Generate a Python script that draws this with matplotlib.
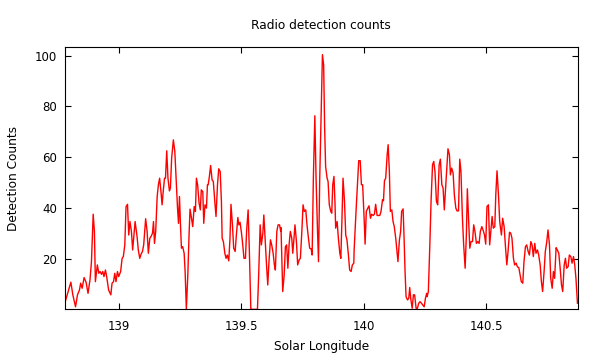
import matplotlib
matplotlib.use('Agg')
import matplotlib.pyplot as plt

TITLE  = "Radio detection counts"
XLABEL = "Solar Longitude"
YLABEL = "Detection Counts"

# values
solar_longitude = [
    138.782, 138.794, 138.805, 138.813, 138.824, 138.832, 138.840, 138.845, 138.851, 138.859,
    138.867, 138.875, 138.883, 138.889, 138.896, 138.901, 138.905, 138.913, 138.919, 138.924,
    138.930, 138.935, 138.940, 138.946, 138.951, 138.959, 138.968, 138.973, 138.979, 138.984,
    138.989, 138.995, 139.000, 139.008, 139.014, 139.019, 139.025, 139.030, 139.036, 139.041,
    139.046, 139.052, 139.057, 139.063,
    139.067, 139.075, 139.080, 139.086, 139.091, 139.097, 139.102, 139.110, 139.116, 139.121,
    139.127, 139.132, 139.138, 139.142, 139.146, 139.151, 139.157, 139.162, 139.167, 139.173,
    139.177, 139.181, 139.187, 139.191, 139.196, 139.201, 139.207, 139.211, 139.216, 139.223,
    139.229, 139.234, 139.240, 139.244, 139.248, 139.252, 139.256, 139.261, 139.267, 139.271,
    139.276, 139.282, 139.287, 139.291, 139.297, 139.302, 139.308, 139.313, 139.317, 139.322,
    139.328, 139.333, 139.337, 139.343, 139.347, 139.352, 139.358, 139.362,
    139.365, 139.370, 139.375, 139.381, 139.386, 139.392, 139.397, 139.403, 139.408, 139.414,
    139.419, 139.422, 139.427, 139.433, 139.438, 139.443, 139.449, 139.454, 139.458, 139.464,
    139.469, 139.475, 139.480, 139.486, 139.490, 139.495, 139.501, 139.506, 139.511, 139.517,
    139.522, 139.528, 139.533, 139.539, 139.544, 139.555, 139.566, 139.571, 139.577, 139.582,
    139.588, 139.592, 139.597, 139.603, 139.608, 139.613, 139.619, 139.624, 139.630, 139.635,
    139.639, 139.645, 139.650, 139.656, 139.661,
    139.662, 139.669, 139.675, 139.680, 139.685, 139.690, 139.695, 139.700, 139.706, 139.710,
    139.715, 139.719, 139.725, 139.730, 139.736, 139.741, 139.747, 139.752, 139.757, 139.763,
    139.768, 139.774, 139.779, 139.785, 139.789, 139.794, 139.800, 139.805, 139.811, 139.815,
    139.820, 139.826, 139.831, 139.836, 139.840, 139.844, 139.850, 139.854, 139.859, 139.865,
    139.869, 139.873, 139.878, 139.882, 139.885, 139.891, 139.896, 139.902, 139.906, 139.910,
    139.915, 139.921, 139.926, 139.931, 139.937, 139.942, 139.948, 139.953, 139.959,
    139.960, 139.968, 139.974, 139.979, 139.985, 139.990, 139.995, 140.001, 140.005, 140.010,
    140.016, 140.021, 140.027, 140.032, 140.038, 140.043, 140.048, 140.054, 140.059, 140.065,
    140.070, 140.076, 140.080, 140.084, 140.089, 140.095, 140.099, 140.104, 140.108, 140.114,
    140.119, 140.124, 140.130, 140.134, 140.139, 140.145, 140.150, 140.154, 140.160, 140.164,
    140.168, 140.172, 140.178, 140.183, 140.187, 140.191, 140.197, 140.202, 140.207, 140.213,
    140.218, 140.224, 140.229, 140.235, 140.240, 140.246, 140.251, 140.256,
    140.258, 140.263, 140.269, 140.274, 140.280, 140.285, 140.290, 140.296, 140.301, 140.307,
    140.312, 140.318, 140.323, 140.328, 140.334, 140.339, 140.343, 140.349, 140.353, 140.358,
    140.364, 140.369, 140.375, 140.380, 140.386, 140.391, 140.396, 140.402, 140.407, 140.413,
    140.418, 140.422, 140.428, 140.432, 140.437, 140.443, 140.448, 140.453, 140.459, 140.464,
    140.470, 140.475, 140.481, 140.486, 140.492, 140.497, 140.502, 140.508, 140.513, 140.519,
    140.523, 140.528, 140.534, 140.538, 140.543, 140.549, 140.554,
    140.561, 140.566, 140.572, 140.577, 140.583, 140.588, 140.594, 140.599, 140.604,
    140.610, 140.615, 140.621, 140.626, 140.632, 140.637, 140.642, 140.648, 140.653, 140.659,
    140.664, 140.670, 140.675, 140.681, 140.686, 140.691, 140.697, 140.702, 140.708, 140.713,
    140.719, 140.724, 140.729, 140.735, 140.740, 140.746, 140.751, 140.757, 140.762, 140.768,
    140.773, 140.778, 140.784, 140.789, 140.795, 140.800, 140.806, 140.811, 140.817, 140.822,
    140.827, 140.833, 140.838, 140.844, 140.849, 140.855, 140.860, 140.865, 140.871,
]

detection_counts = [
    3.0, 7.0, 10.7, 5.7, 1.0, 5.7, 7.6, 10.3, 8.3, 12.5,
    10.7, 6.3, 11.6, 18.8, 37.5, 30.7, 10.9, 17.5, 14.2, 14.9,
    13.8, 14.9, 12.9, 15.5, 12.9, 7.6, 5.7, 10.3, 10.9, 14.2,
    10.9, 14.9, 12.9, 14.9, 20.1, 20.8, 25.4, 40.5, 41.4, 29.3,
    34.6, 30.7, 23.4, 30.0,
    34.6, 28.7, 23.4, 20.1, 21.7, 22.8, 25.4, 35.7, 30.7, 22.1,
    28.0, 28.7, 30.0, 34.6, 26.0, 30.7, 44.5, 49.1, 51.7, 45.8,
    41.2, 45.8, 51.7, 51.7, 62.5, 51.7, 46.7, 47.8, 59.6, 66.8,
    62.2, 51.7, 39.9, 33.9, 44.5, 33.3, 24.1, 24.7, 22.1, 14.9,
    0.0, 13.6, 29.3, 39.5, 35.9, 32.6, 40.5, 38.6, 51.7, 49.1,
    41.8, 39.2, 47.1, 46.4, 33.9, 41.2, 39.9, 49.1,
    49.1, 52.4, 56.7, 51.0, 50.4, 42.5, 36.6, 49.1, 55.4, 54.3,
    42.5, 28.0, 26.7, 22.1, 20.1, 21.4, 19.1, 28.0, 41.4, 33.3,
    24.1, 22.8, 29.3, 36.2, 33.3, 34.3, 30.0, 25.4, 20.1, 20.1,
    31.3, 39.2, 22.8, 0.0, 0.0, 0.0, 0.0, 13.6, 33.3, 25.4,
    30.0, 37.2, 28.0, 17.5, 9.6, 18.8, 27.4, 25.4, 22.1, 17.5,
    15.5, 30.7, 33.3, 33.3, 30.7,
    32.2, 7.0, 13.6, 24.7, 25.4, 16.2, 25.4, 30.7, 28.0, 22.1,
    28.0, 33.3, 26.7, 17.5, 19.5, 20.1, 30.7, 41.2, 38.6, 39.2,
    33.3, 28.0, 24.1, 23.8, 21.4, 51.7, 76.3, 51.7, 30.7, 18.8,
    51.7, 78.0, 100.4, 96.4, 71.4, 56.3, 51.7, 50.4, 41.2, 38.6,
    37.9, 49.1, 52.4, 42.5, 32.0, 34.6, 28.0, 22.1, 20.1, 33.3,
    51.7, 42.5, 29.3, 27.4, 21.4, 15.5, 14.9, 17.5, 18.2,
    22.8, 38.6, 49.1, 58.6, 58.6, 49.1, 49.1, 35.9, 25.7, 38.6,
    39.9, 40.8, 35.9, 37.5, 37.0, 37.5, 41.4, 37.0, 37.0, 37.0,
    38.6, 43.2, 42.8, 50.7, 51.7, 60.9, 64.9, 54.3, 38.6, 39.2,
    34.6, 32.6, 28.0, 24.1, 18.8, 27.4, 30.7, 38.6, 39.6, 28.0,
    14.9, 5.0, 3.7, 4.3, 8.6, 4.3, 0.4, 5.7, 5.7, 0.4,
    0.4, 2.4, 3.0, 2.4, 1.7, 1.0, 4.3, 6.3,
    5.0, 7.0, 25.4, 42.5, 57.0, 58.3, 54.3, 42.5, 41.2, 57.0,
    59.2, 49.1, 47.8, 39.2, 49.1, 57.0, 63.3, 60.9, 53.0, 55.7,
    53.7, 45.1, 39.9, 38.8, 38.8, 59.2, 54.3, 35.9, 25.4, 16.2,
    29.3, 47.5, 33.3, 24.1, 26.7, 26.7, 33.3, 30.7, 26.0, 26.7,
    26.0, 30.7, 32.6, 31.3, 29.3, 25.7, 40.5, 41.2, 25.4, 32.0,
    36.6, 32.0, 32.6, 45.1, 54.6, 45.1, 34.6,
    29.3, 35.9, 32.6, 25.4, 17.5, 22.8, 30.4, 30.0, 28.0,
    20.1, 17.5, 18.2, 16.8, 16.4, 13.6, 10.9, 10.3, 18.8, 24.7,
    25.4, 22.8, 21.4, 26.7, 25.4, 20.8, 26.0, 22.1, 23.4, 21.4,
    17.5, 10.9, 7.0, 14.9, 22.8, 26.7, 31.3, 25.4, 12.2, 8.3,
    14.9, 12.2, 24.3, 23.4, 22.1, 16.8, 9.6, 7.0, 17.5, 20.1,
    16.2, 16.8, 21.4, 20.8, 18.2, 20.8, 17.5, 12.2, 2.4,
]

x_ticks       = [139, 139.5, 140, 140.5]
x_tick_labels = ['139', '139.5', '140', '140.5']
y_ticks       = [20, 40, 60, 80, 100]

fig = plt.figure(figsize=(6, 3.6), dpi=100)
ax  = fig.add_axes([0.1083, 0.1408, 0.8545, 0.7278])

ax.plot(solar_longitude, detection_counts, color='#ff0000', lw=1.0)

ax.set_xlim(138.781, 140.872)
ax.set_ylim(0, 103.3)
ax.set_xticks(x_ticks)
ax.set_xticklabels(x_tick_labels)
ax.set_yticks(y_ticks)

ax.tick_params(direction='in', top=True, right=True, length=4.5, width=0.8,
               labelsize=8.5, colors='black')
ax.tick_params(axis='x', pad=8)
ax.tick_params(axis='y', pad=5.5)
for s in ax.spines.values():
    s.set_linewidth(0.8)

ax.set_title(TITLE, fontsize=8.7, pad=13)
ax.set_xlabel(XLABEL, fontsize=8.7, labelpad=5)
ax.set_ylabel(YLABEL, fontsize=8.7, labelpad=11)

fig.savefig('out.png', dpi=100)
